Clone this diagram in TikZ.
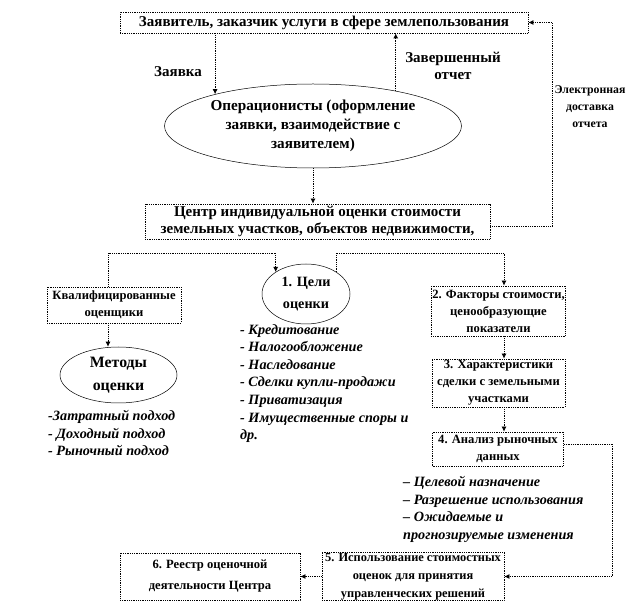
\documentclass[tikz,border=0pt]{standalone}
\usepackage{fontspec}
\setmainfont{Liberation Serif}
\usetikzlibrary{arrows.meta,calc,shapes.geometric}
\begin{document}
\begin{tikzpicture}[x=1pt,y=-1pt,
  dl/.style={densely dotted, line width=0.8pt},
  arr/.style={dl,-{Latex[length=5pt,width=5pt]}},
  bx/.style={draw,dl,rectangle,align=center,inner sep=1pt,font=\bfseries\fontsize{12.6}{17}\selectfont},
  bigbx/.style={bx,font=\bfseries\fontsize{15}{17}\selectfont},
  el/.style={draw,ellipse,line width=0.5pt,align=center,inner sep=0pt},
  lst/.style={align=left,anchor=north west,font=\bfseries\itshape\fontsize{14.2}{17.6}\selectfont,inner sep=0pt},
  lbl/.style={align=center,font=\bfseries\fontsize{15}{17}\selectfont,inner sep=0pt}
]
\path[use as bounding box] (0,0) rectangle (638,612);

\node[bigbx,minimum width=408pt,minimum height=21pt] (top) at (324,22.5) {Заявитель, заказчик услуги в сфере землепользования};
\node[el,minimum width=297pt,minimum height=84pt,font=\bfseries\fontsize{15.2}{19}\selectfont] (ell1) at (313,126) {Операционисты (оформление\\заявки, взаимодействие с\\заявителем)};
\node[bigbx,minimum width=345pt,minimum height=35pt] (cen) at (317.5,221.5) {Центр индивидуальной оценки стоимости\\земельных участков, объектов недвижимости,};

\node[bx,minimum width=134pt,minimum height=36pt] (kval) at (114,305) {Квалифицированные\\оценщики};
\node[el,minimum width=117pt,minimum height=56pt,font=\bfseries\fontsize{15.8}{23}\selectfont] (met) at (118.5,375) {Методы\\оценки};
\node[el,minimum width=88pt,minimum height=60pt,font=\bfseries\fontsize{14.2}{22}\selectfont] (celi) at (306,294) {1. Цели\\оценки};

\node[bx,minimum width=133pt,minimum height=50pt] (box2) at (498.5,311) {2. Факторы стоимости,\\ценообразующие\\показатели};
\node[bx,minimum width=133pt,minimum height=48pt] (box3) at (498.5,383) {3. Характеристики\\сделки с земельными\\участками};
\node[bx,minimum width=131pt,minimum height=34pt] (box4) at (498,449) {4. Анализ рыночных\\данных};
\node[bx,minimum width=182pt,minimum height=47pt,font=\bfseries\fontsize{12.4}{18}\selectfont] (box5) at (413,576.5) {5. Использование стоимостных\\оценок для принятия\\управленческих решений};
\node[bx,minimum width=180pt,minimum height=47pt,font=\bfseries\fontsize{12.6}{21}\selectfont] (box6) at (210,576.5) {6. Реестр оценочной\\деятельности Центра};

\node[lst] (lmet) at (48,410) {-Затратный подход\\- Доходный подход\\- Рыночный подход};
\node[lst] (lceli) at (240,324) {- Кредитование\\- Налогообложение\\- Наследование\\- Сделки купли-продажи\\- Приватизация\\- Имущественные споры и\\др.};
\node[lst] (lbox4) at (403,476) {– Целевой назначение\\– Разрешение использования\\– Ожидаемые и\\прогнозируемые изменения};

\node[lbl] (lzay) at (178,72) {Заявка};
\node[lbl] (lzav) at (453,66) {Завершенный\\отчет};
\node[lbl,font=\bfseries\fontsize{11.8}{17}\selectfont] (lel) at (590,107) {Электронная\\доставка\\отчета};

\coordinate (hy) at (0,253);
\coordinate (ax) at (108,0);
\coordinate (bx) at (504,0);

\draw[arr] (top.south -| ell1.162) -- (ell1.162);
\draw[arr] (ell1.23) -- (ell1.23 |- top.south);
\draw[arr] (ell1.south) -- (ell1.south |- cen.north);
\draw[arr] ([yshift=-5pt]cen.east) -- ++(62,0) |- (top.east);
\draw[arr] (kval.north -| ax) -- (ax |- hy) -| (celi.144);
\draw[arr] (kval.south -| ax) -- (met.north -| ax);
\draw[arr] (celi.36) -- (celi.36 |- hy) -| (box2.north -| bx);
\draw[arr] (box2.south -| bx) -- (box3.north -| bx);
\draw[arr] (box3.south -| bx) -- (box4.north -| bx);
\draw[arr] ([yshift=5pt]box4.east) -- ++(48.5,0) |- (box5.east);
\draw[arr] (box5.west) -- (box6.east);
\end{tikzpicture}
\end{document}
